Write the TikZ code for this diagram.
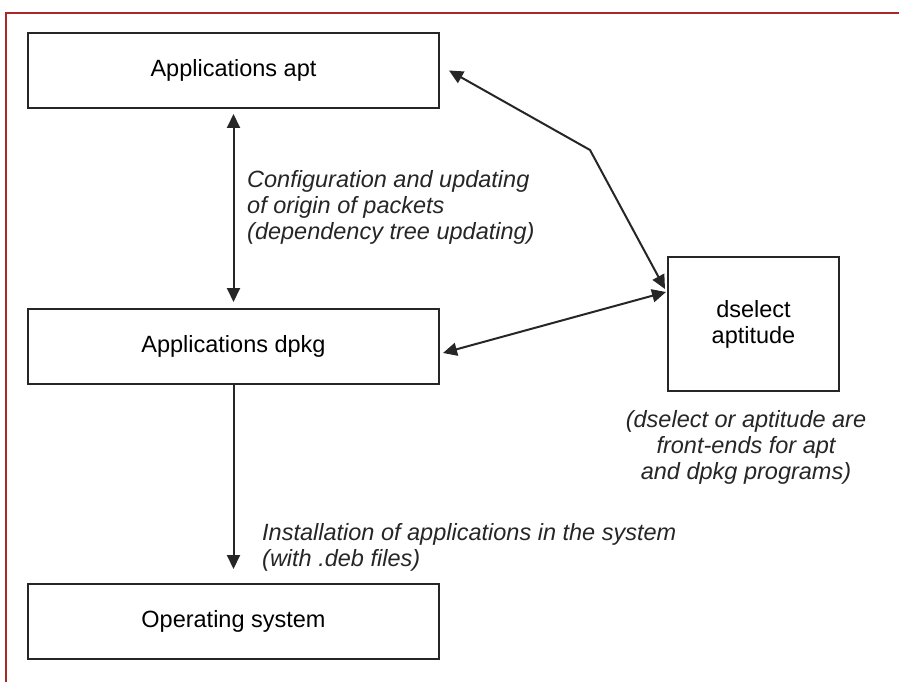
\documentclass[tikz,border=0pt]{standalone}
\usepackage{fontspec}
\setmainfont{Liberation Sans}
\usetikzlibrary{arrows.meta}
\definecolor{framered}{RGB}{170,40,40}
\begin{document}
\begin{tikzpicture}[x=1pt,y=-1pt,
  box/.style={draw=black!85, line width=2pt, minimum width=411pt, minimum height=75pt, inner sep=0pt, font=\fontsize{23.5}{26}\selectfont},
  conn/.style={line width=2pt, draw=black!85, -{Triangle[length=14pt,width=13pt]}},
  dconn/.style={line width=2pt, draw=black!85, {Triangle[length=14pt,width=13pt]}-{Triangle[length=14pt,width=13pt]}},
  lbl/.style={font=\fontsize{23.5}{26}\selectfont\itshape, inner sep=0pt, text=black!85}]
\useasboundingbox (0,0) rectangle (899,682);
\fill[white] (0,0) rectangle (899,682);
\draw[framered, line width=2.2pt] (6,682) -- (6,13) -- (899,13);

\node[box] (apt) at (233.5,70.5) {Applications apt};
\node[box] (dpkg) at (233.5,346.5) {Applications dpkg};
\node[box] (os) at (233.5,621.5) {Operating system};
\node[box, minimum width=171pt, minimum height=134pt, align=center] (dsel) at (753.5,324) {dselect\\aptitude};

\node[lbl, anchor=west, align=left] (lcfg) at (247,207.5) {Configuration and updating\\of origin of packets\\(dependency tree updating)};
\node[lbl, anchor=west, align=left] (linst) at (262,547.5) {Installation of applications in the system\\(with .deb files)};
\node[lbl, align=center] (lsel) at (746,447) {(dselect or aptitude are\\front-ends for apt\\and dpkg programs)};

\coordinate (bend) at (590,150);
\draw[dconn, shorten <=5pt, shorten >=6pt] (apt.south) -- (dpkg.north);
\draw[conn, shorten >=14pt] (dpkg.south) -- (os.north);
\draw[dconn] ([xshift=9pt]apt.east) -- (bend) -- ([xshift=-2pt,yshift=35pt]dsel.west);
\draw[dconn] ([xshift=3pt,yshift=-6.5pt]dpkg.east) -- ([xshift=-1pt,yshift=32pt]dsel.west);
\end{tikzpicture}
\end{document}
